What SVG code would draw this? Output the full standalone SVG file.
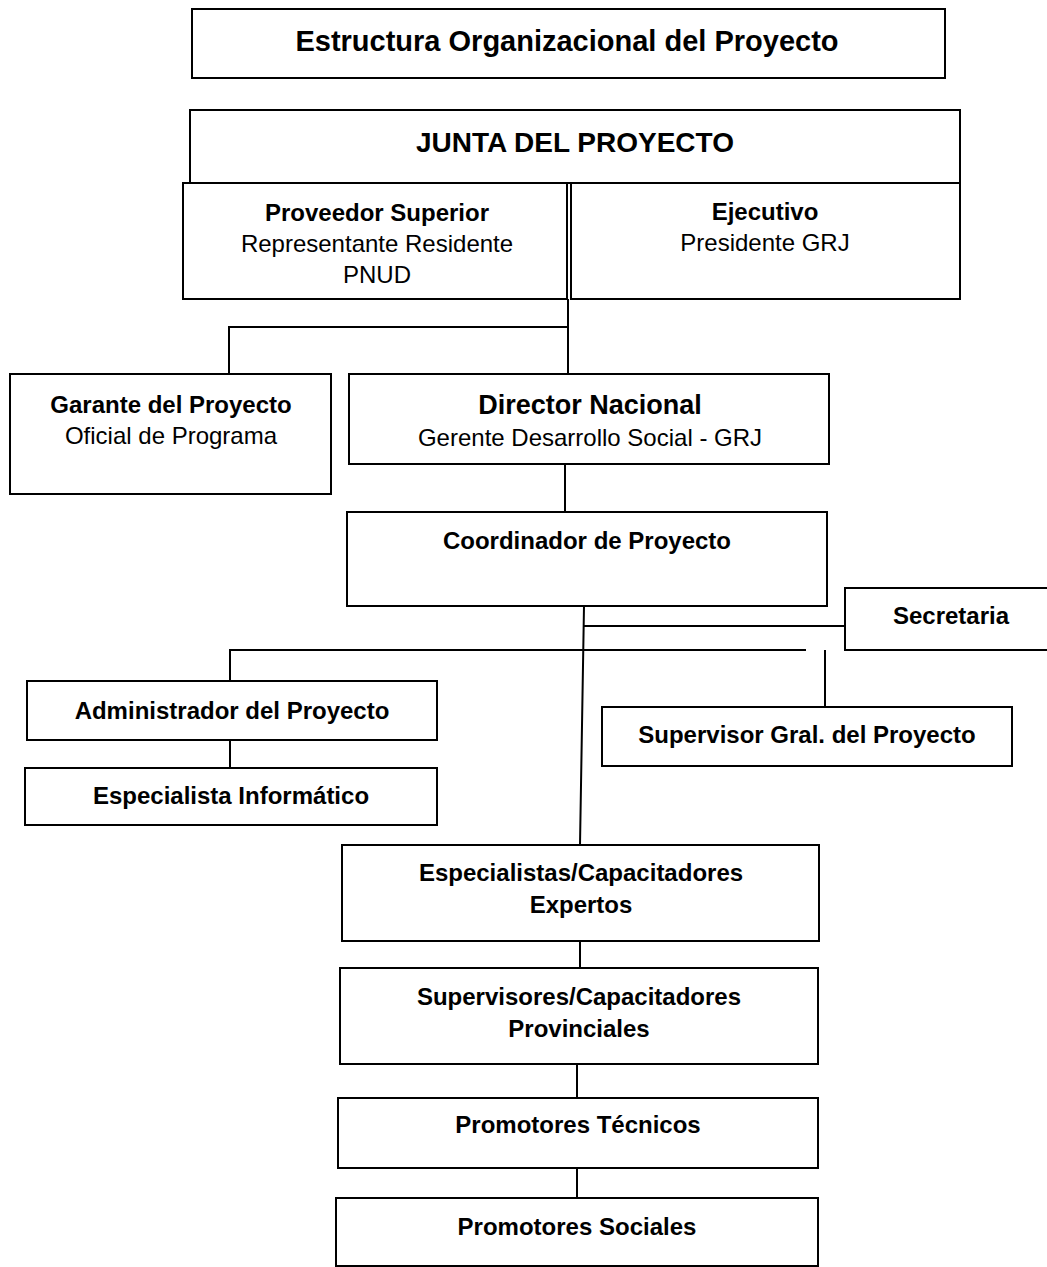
<svg xmlns="http://www.w3.org/2000/svg" width="1047" height="1267" viewBox="0 0 1047 1267">
<style>
.box{fill:#fff;stroke:#000;stroke-width:2}
.ln{fill:none;stroke:#000;stroke-width:2}
text{font-family:"Liberation Sans",Arial,sans-serif;fill:#000;text-anchor:middle}
.b{font-weight:bold;font-size:24px}
.r{font-size:24px}
</style>
<rect width="1047" height="1267" fill="#fff"/>
<g id="connectors">
<path class="ln" d="M568,299 V374 M568,327 H229 V374"/>
<path class="ln" d="M565,464 V512"/>
<path class="ln" d="M584,606 L580,845 M584,626 H845"/>
<path class="ln" d="M230,681 V650 H806 M825,650 V707"/>
<path class="ln" d="M230,740 V768"/>
<path class="ln" d="M580,941 V968"/>
<path class="ln" d="M577,1064 V1098"/>
<path class="ln" d="M577,1168 V1198"/>
</g>
<g id="title"><rect class="box" x="192" y="9" width="753" height="69"/><text class="b" x="567" y="51" style="font-size:29px">Estructura Organizacional del Proyecto</text></g>
<g id="junta"><rect class="box" x="190" y="110" width="770" height="73"/><text class="b" x="575" y="152" style="font-size:28px">JUNTA DEL PROYECTO</text></g>
<g id="proveedor"><rect class="box" x="183" y="183" width="384" height="116"/><text class="b" x="377" y="221">Proveedor Superior</text><text class="r" x="377" y="252">Representante Residente</text><text class="r" x="377" y="283">PNUD</text></g>
<g id="ejecutivo"><rect class="box" x="571" y="183" width="389" height="116"/><text class="b" x="765" y="220">Ejecutivo</text><text class="r" x="765" y="251">Presidente GRJ</text></g>
<g id="garante"><rect class="box" x="10" y="374" width="321" height="120"/><text class="b" x="171" y="413">Garante del Proyecto</text><text class="r" x="171" y="444">Oficial de Programa</text></g>
<g id="director"><rect class="box" x="349" y="374" width="480" height="90"/><text class="b" x="590" y="414" style="font-size:27px">Director Nacional</text><text class="r" x="590" y="446">Gerente Desarrollo Social - GRJ</text></g>
<g id="coordinador"><rect class="box" x="347" y="512" width="480" height="94"/><text class="b" x="587" y="549">Coordinador de Proyecto</text></g>
<g id="secretaria"><rect class="box" x="845" y="588" width="210" height="62"/><text class="b" x="951" y="624">Secretaria</text></g>
<g id="administrador"><rect class="box" x="27" y="681" width="410" height="59"/><text class="b" x="232" y="719">Administrador del Proyecto</text></g>
<g id="informatico"><rect class="box" x="25" y="768" width="412" height="57"/><text class="b" x="231" y="804">Especialista Informático</text></g>
<g id="supervisor"><rect class="box" x="602" y="707" width="410" height="59"/><text class="b" x="807" y="743">Supervisor Gral. del Proyecto</text></g>
<g id="especialistas"><rect class="box" x="342" y="845" width="477" height="96"/><text class="b" x="581" y="881">Especialistas/Capacitadores</text><text class="b" x="581" y="913">Expertos</text></g>
<g id="supervisores"><rect class="box" x="340" y="968" width="478" height="96"/><text class="b" x="579" y="1005">Supervisores/Capacitadores</text><text class="b" x="579" y="1037">Provinciales</text></g>
<g id="tecnicos"><rect class="box" x="338" y="1098" width="480" height="70"/><text class="b" x="578" y="1133">Promotores Técnicos</text></g>
<g id="sociales"><rect class="box" x="336" y="1198" width="482" height="68"/><text class="b" x="577" y="1235">Promotores Sociales</text></g>
</svg>
